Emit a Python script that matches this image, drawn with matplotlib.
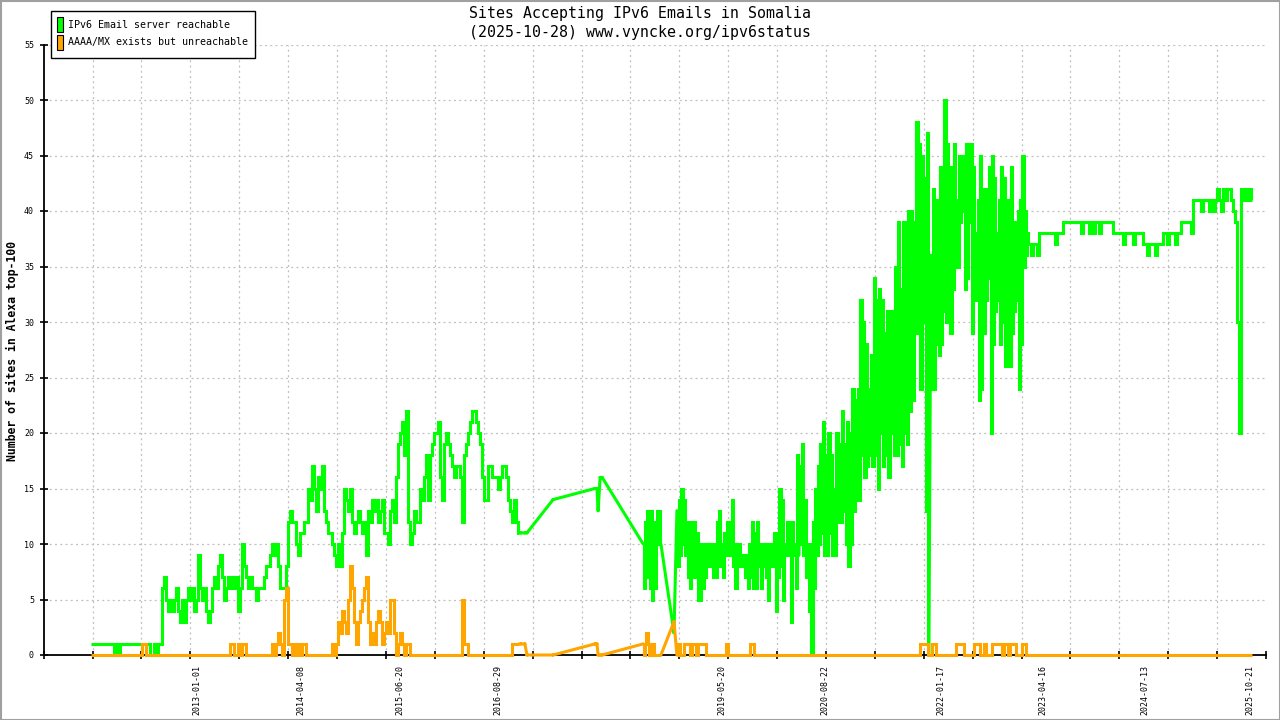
import numpy as np
import matplotlib
matplotlib.use("Agg")
import matplotlib.pyplot as plt
import matplotlib.dates as mdates
from matplotlib.patches import Rectangle

# ---------------- text ----------------
TITLE_1 = "Sites Accepting IPv6 Emails in Somalia"
TITLE_2 = "(2025-10-28) www.vyncke.org/ipv6status"
Y_LABEL = "Number of sites in Alexa top-100"
SERIES_NAMES = ["IPv6 Email server reachable", "AAAA/MX exists but unreachable"]
SERIES_COLORS = ["#00ff00", "#ffa500"]

X_LABEL_DATES = ["2013-01-01", "2014-04-08", "2015-06-20", "2016-08-29", "2019-05-20",
                 "2020-08-22", "2022-01-17", "2023-04-16", "2024-07-13", "2025-10-21"]
Y_TICKS = [0, 5, 10, 15, 20, 25, 30, 35, 40, 45, 50, 55]
X_RANGE = ["2011-02-20", "2025-12-31"]

# ---------------- data ----------------
# Continuous stretches of measurements: (first date, last date, values evenly spaced in time)
GREEN_1 = [1, 1, 1, 1, 1, 1, 1, 1, 1, 1, 1, 1,
           0, 1, 0, 1,
           1, 1, 1, 1, 1, 1, 1, 1, 1, 1, 1, 1, 1, 1,
           0, 0, 1, 0, 1, 1,
           6, 7, 5, 4, 5, 4, 5, 6, 4, 3, 5, 3, 5, 6, 5, 6, 4, 5, 9, 6,
           5, 6, 4, 3, 4, 6, 7, 6, 8, 9, 7, 5, 6, 7, 6, 7, 6, 7, 4, 6,
           10, 8, 7, 6, 7, 6, 6, 5, 6, 6, 6, 7, 8, 8, 9, 10, 9, 10, 8, 6,
           6, 6, 8, 12,
           13, 12, 12, 10, 9, 11, 11, 12, 12, 15, 14, 17, 15, 13, 16, 15, 17, 13, 12, 11,
           11, 10, 9, 8, 10, 8, 11, 15, 14, 13, 15, 12, 11, 12, 13, 12, 11, 12, 9, 13,
           12, 14, 13, 14, 12, 13, 14, 11, 11, 10, 13, 14, 12, 16, 19, 20, 21, 18, 22, 12,
           10, 11, 13, 12, 12, 15, 14, 16, 18, 14, 18, 19, 20, 20, 21, 16, 14, 19, 20, 19,
           18, 17, 16, 17, 17, 16, 12, 18, 19, 20, 21, 22, 22, 21, 20, 19, 16, 14, 14, 17,
           17, 16, 16, 16, 15, 16, 17, 17, 16, 14, 13, 12, 14, 12, 11]
ORANGE_1 = [0, 0, 0, 0, 0, 0, 0, 0, 0, 0, 0, 0, 0, 0, 0, 0, 0, 0, 0, 0, 0, 0, 0, 0, 0, 0,
            1, 1,
            0, 0, 0, 0, 0, 0, 0, 0, 0, 0, 0, 0, 0, 0, 0, 0, 0, 0, 0, 0, 0,
            0, 0, 0, 0, 0, 0, 0, 0, 0, 0, 0, 0, 0, 0, 0, 0, 0, 0, 0, 0, 0,
            1, 1, 0, 0, 1, 0, 1, 1,
            0, 0, 0, 0, 0, 0, 0, 0, 0, 0, 0, 0, 0,
            1, 0, 1, 2, 1, 0, 5, 6, 1, 1, 0, 1, 0, 1, 0, 1, 1, 0,
            0, 0, 0, 0, 0, 0, 0, 0, 0, 0, 0, 0,
            1, 0, 1, 3, 2, 4, 3, 2, 5, 8, 6, 3, 1, 3, 4, 5, 6, 7, 3, 1,
            2, 1, 3, 4, 3, 1, 2, 3, 2, 5, 5, 2, 0, 1, 2, 1, 0, 1, 1,
            0, 0, 0, 0, 0, 0, 0, 0, 0, 0, 0, 0, 0, 0, 0, 0, 0, 0, 0, 0, 0, 0, 0, 0, 0, 0,
            5, 1, 1, 0,
            0, 0, 0, 0, 0, 0, 0, 0, 0, 0, 0, 0, 0, 0, 0, 0, 0, 0, 0, 0, 0,
            1, 1, 1, 1]
GREEN_C = [10, 6, 12, 7, 13, 7, 13, 6, 13, 5, 12, 7, 9, 6, 10, 13, 10, 13, 10]
ORANGE_C = [1, 0, 1, 2, 2, 1, 0, 1, 1, 0, 1, 0, 0, 0, 0, 0, 0, 0, 0]
GREEN_D = [13, 8, 14, 9, 15, 10, 14, 9, 12, 7, 11, 6, 12, 7, 12, 7, 11, 5, 10, 5,
           10, 6, 10, 7, 10, 8, 10, 8, 10, 7, 10, 7, 12, 8, 13, 8, 10, 7, 11, 9,
           12, 9, 12, 9, 14, 8, 10, 6, 10, 9, 10, 8, 9, 8, 9, 7, 9, 6, 10, 7,
           12, 6, 11, 6, 12, 8, 10, 6, 10, 8, 10, 7, 10, 5, 10, 8, 10, 8, 11, 4,
           10, 7, 15, 8, 14, 5, 10, 9, 12, 9, 12, 3, 12, 9, 10, 6, 18, 9]
GREEN_E1 = [17, 10, 19, 9, 14, 7, 10, 4, 10, 0, 12, 6, 15, 9, 17, 10, 19, 11, 21, 9,
            18, 9, 20, 11, 18, 9, 15, 9, 20, 12, 19, 12, 22, 13, 19, 10, 21, 8, 20, 10,
            24, 13, 23, 14, 24, 14, 32, 18, 30, 16, 28, 17, 24, 18, 27, 17, 34, 18, 32, 15,
            33, 20, 32, 17, 29, 18, 31, 16, 31, 20, 31, 18, 35, 18, 39, 19, 33, 17, 39, 20,
            39, 19, 40, 22, 40, 23, 39, 29, 48, 29, 46, 24, 45, 30, 43, 13, 47, 0]
GREEN_E2 = [36, 24, 42, 24, 41, 28, 41, 27, 44, 28, 42, 31, 50, 30, 46, 34, 44, 29, 44, 33,
            46, 36, 41, 35, 45, 39, 44, 40, 45, 33, 46, 34, 43, 39, 46, 29, 44, 34, 38, 32,
            41, 23, 45, 24, 42, 29, 42, 32, 38, 34, 44, 20, 45, 28, 43, 31, 38, 32, 41, 28,
            44, 30, 43, 26, 39, 30, 41, 26, 44, 29, 39, 31, 39, 32, 40, 24, 41, 28, 45, 35,
            40, 36, 38, 37]
GREEN_F = [37, 36, 37, 37, 36, 38, 38, 38, 38, 38, 38, 38, 38, 37, 38, 38, 38, 39, 39, 39,
           39, 39, 39, 39, 39, 39, 38, 39, 39, 39, 38, 39, 38, 39, 39, 38, 39, 39, 39, 39,
           39, 39, 38, 38, 38, 38, 38, 37, 38, 38, 38, 38, 37, 38, 38, 38, 38, 37, 37, 36,
           37, 37, 37, 36, 37, 37, 37, 38, 38, 37, 38, 38, 38, 37, 38, 38, 39, 39, 39, 39,
           39, 38, 41, 41, 41, 41, 40, 41, 41, 41, 40, 41, 40, 41, 42, 41, 40, 42, 41, 42,
           42, 41, 40, 39, 30, 20, 42, 41, 42, 41, 42, 41]
ORANGE_3 = [0, 1, 0, 0, 1, 1, 1, 0, 1, 1, 0, 1, 1, 1, 1, 0, 0, 0, 0, 0,
            0, 0, 0, 0, 0, 1, 0, 0, 0, 0, 0, 0, 0, 0, 0, 0, 0, 1, 1, 0,
            0, 0, 0, 0, 0, 0, 0, 0, 0, 0, 0, 0, 0, 0, 0, 0, 0, 0, 0, 0,
            0, 0, 0, 0, 0, 0, 0, 0, 0, 0, 0, 0, 0, 0, 0, 0, 0, 0, 0, 0,
            0, 0, 0, 0, 0, 0, 0, 0, 0, 0, 0, 0, 0, 0, 0, 0, 0, 0, 0, 0,
            0, 0, 0, 0, 0, 0, 0, 0, 0, 0, 0, 0, 0, 0, 0, 0, 0, 0, 0, 0,
            0, 0,
            1, 1, 1, 1, 0, 0, 1, 1, 0, 0, 0, 0, 0, 0, 0, 0, 0, 0,
            1, 1, 1, 1, 0, 0, 0, 0, 0, 1, 1, 1, 0, 0, 1, 0, 0, 0,
            1, 1, 1, 1, 1, 0, 1, 1, 0, 1, 1, 1, 0, 0, 0, 1, 1, 0,
            0, 0, 0, 0, 0, 0, 0, 0, 0, 0, 0, 0, 0, 0, 0, 0, 0, 0, 0, 0,
            0, 0, 0, 0, 0, 0, 0, 0, 0, 0, 0, 0, 0, 0, 0, 0, 0, 0, 0, 0,
            0, 0, 0, 0, 0, 0, 0, 0, 0, 0, 0, 0, 0, 0, 0, 0, 0, 0, 0, 0,
            0, 0, 0, 0, 0, 0, 0, 0, 0, 0, 0, 0, 0, 0, 0, 0, 0, 0, 0, 0,
            0, 0, 0, 0, 0, 0, 0, 0, 0, 0, 0, 0, 0, 0, 0, 0, 0, 0, 0, 0,
            0, 0, 0, 0, 0, 0, 0, 0, 0, 0, 0, 0]

GREEN_BLOCKS = [("2011-09-18", "2016-12-01", GREEN_1),
                ("2018-06-05", "2018-08-23", GREEN_C),
                ("2018-11-02", "2020-04-27", GREEN_D),
                ("2020-05-01", "2021-11-25", GREEN_E1),
                ("2021-12-04", "2023-02-12", GREEN_E2),
                ("2023-02-17", "2025-10-28", GREEN_F)]
ORANGE_BLOCKS = [("2011-09-18", "2016-12-01", ORANGE_1),
                 ("2018-06-05", "2018-08-23", ORANGE_C),
                 ("2018-11-02", "2025-10-28", ORANGE_3)]

# isolated measurements in the sparse period
SPARSE_DATES = ["2016-12-10", "2016-12-27", "2017-01-05", "2017-05-01", "2017-11-03",
                "2017-11-12", "2017-11-17", "2017-11-26", "2017-12-05", "2018-10-20"]
SPARSE_GREEN = [11, 11, 11, 14, 15, 15, 13, 16, 16, 2]
SPARSE_ORANGE = [1, 1, 0, 0, 1, 1, 0, 0, 0, 3]


def pieces_of(blocks, sparse_vals):
    pieces = []
    for start, end, vals in blocks:
        xs = np.linspace(mdates.datestr2num(start), mdates.datestr2num(end), len(vals))
        pieces.append((xs, np.asarray(vals, dtype=float)))
    for d, v in zip(SPARSE_DATES, sparse_vals):
        pieces.append((np.array([mdates.datestr2num(d)]), np.array([float(v)])))
    pieces.sort(key=lambda p: p[0][0])
    return pieces


def draw_series(ax, pieces, color, z):
    # straight connections across gaps in the measurements
    cx, cy = [], []
    for (xa, ya), (xb, yb) in zip(pieces[:-1], pieces[1:]):
        cx += [xa[-1], xb[0], np.nan]
        cy += [ya[-1], yb[0], np.nan]
    ax.plot(cx, cy, color=color, lw=2.2, zorder=z, clip_on=False,
            solid_capstyle="round", solid_joinstyle="round")
    # continuous measurement stretches
    for xs, ys in pieces:
        if len(xs) > 1:
            ax.plot(xs, ys, color=color, lw=2.2, zorder=z, clip_on=False,
                    drawstyle="steps-mid", solid_joinstyle="miter", solid_capstyle="butt")


# ---------------- figure ----------------
W, H = 1280, 720
fig = plt.figure(figsize=(W / 100, H / 100), dpi=100)
fig.patch.set_facecolor("white")

MONO = "DejaVu Sans Mono"
ax_left, ax_right, ax_top, ax_bottom = 43.7, 1266.0, 44.5, 655.0
ax = fig.add_axes([ax_left / W, (H - ax_bottom) / H, (ax_right - ax_left) / W, (ax_bottom - ax_top) / H])
ax.set_facecolor("white")

x0, x1 = mdates.datestr2num(X_RANGE[0]), mdates.datestr2num(X_RANGE[1])
ax.set_xlim(x0, x1)
ax.set_ylim(0, 55)

xticks = np.linspace(x0, x1, 26)
grid_kw = dict(color="#c0c0c0", lw=0.9, linestyle=(0, (1.6, 2.6)), zorder=1)
for xt in xticks[1:-1]:
    ax.axvline(xt, **grid_kw)
for yt in Y_TICKS[1:]:
    ax.axhline(yt, **grid_kw)

draw_series(ax, pieces_of(GREEN_BLOCKS, SPARSE_GREEN), SERIES_COLORS[0], 3)
draw_series(ax, pieces_of(ORANGE_BLOCKS, SPARSE_ORANGE), SERIES_COLORS[1], 4)

for side in ("top", "right"):
    ax.spines[side].set_visible(False)
for side in ("left", "bottom"):
    ax.spines[side].set_color("black")
    ax.spines[side].set_linewidth(1.3)
    ax.spines[side].set_zorder(2.5)

ax.set_xticks(xticks)
ax.set_xticklabels([])
ax.set_yticks(Y_TICKS)
ax.set_yticklabels([str(v) for v in Y_TICKS], fontfamily=MONO, fontsize=6)
ax.tick_params(axis="both", direction="inout", length=6, width=1.2, color="black")
ax.tick_params(axis="y", pad=4)

for d in X_LABEL_DATES:
    ax.annotate(d, xy=(mdates.datestr2num(d), 0), xycoords=("data", "axes fraction"),
                xytext=(0, -7.5), textcoords="offset points", rotation=90,
                ha="center", va="top", fontsize=6, fontfamily=MONO)

# ---------------- overlay: title, legend, y label, frame ----------------
ov = fig.add_axes([0, 0, 1, 1], zorder=10)
ov.set_xlim(0, W)
ov.set_ylim(H, 0)
ov.axis("off")

ov.text(640, 13.5, TITLE_1, ha="center", va="center", fontsize=10.7, fontfamily=MONO)
ov.text(640, 32, TITLE_2, ha="center", va="center", fontsize=10.7, fontfamily=MONO)
ov.text(12, 351, Y_LABEL, ha="center", va="center", rotation=90, fontsize=8.3,
        fontfamily=MONO, fontweight="bold")

ov.add_patch(Rectangle((50.5, 10.5), 204, 47, facecolor="white", edgecolor="black", lw=1.0))
for i, (name, col) in enumerate(zip(SERIES_NAMES, SERIES_COLORS)):
    yc = 24.5 + i * 17.5
    ov.add_patch(Rectangle((56.5, yc - 7.5), 6, 15, facecolor=col, edgecolor="black", lw=0.8))
    ov.text(68, yc, name, ha="left", va="center", fontsize=7.2, fontfamily=MONO)

ov.add_patch(Rectangle((0.5, 0.5), W - 1, H - 1, facecolor="none", edgecolor="#a0a0a0", lw=1.5))

fig.savefig("out.png", dpi=100, facecolor="white")
